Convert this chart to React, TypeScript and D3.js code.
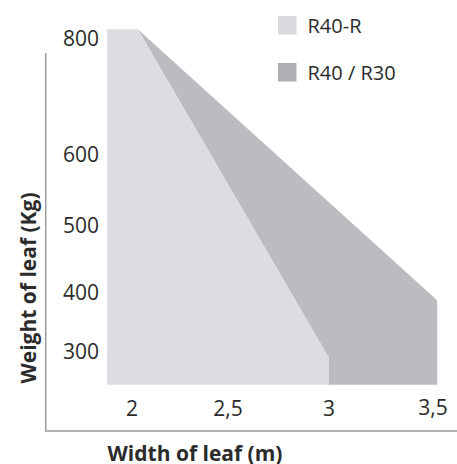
import React from "react";
import * as d3 from "d3";

const xTicks = [2, 2.5, 3, 3.5];
const xTickLabels = ["2", "2,5", "3", "3,5"];
const yTicks = [300, 400, 500, 600, 800];
const yTickLabels = ["300", "400", "500", "600", "800"];

// Polygon outlines: [width m, weight kg]
const r40rWidth = [1.87, 1.87, 2.03, 3.0, 3.0];
const r40rWeight = [243, 815, 815, 288, 243];
const r40r30Width = [2.03, 3.52, 3.52, 3.0, 3.0];
const r40r30Weight = [815, 386, 243, 243, 288];

const seriesNames = ["R40-R", "R40 / R30"];
const seriesColors = ["#dcdde0", "#bbbcc0"];
const legendColors = ["#d8dadd", "#adafb3"];

const W = 457;
const H = 464;

export default function App() {
  const x = d3.scaleLinear().domain(xTicks).range([132, 228, 329, 433]);
  const y = d3.scaleLinear().domain(yTicks).range([351, 292, 225, 154, 38]);

  const line = d3
    .line<[number, number]>()
    .x((d) => x(d[0]))
    .y((d) => y(d[1]));

  const poly = (ws: number[], ks: number[]) =>
    line(ws.map((w, i) => [w, ks[i]] as [number, number])) + "Z";

  const font = "'Open Sans', sans-serif";
  const textColor = "#2b2b2b";

  return (
    <svg
      width={W}
      height={H}
      style={{ position: "absolute", left: 0, top: 0, background: "#fff" }}
      fontFamily={font}
    >
      <path d={poly(r40r30Width, r40r30Weight)} fill={seriesColors[1]} />
      <path d={poly(r40rWidth, r40rWeight)} fill={seriesColors[0]} />

      <line x1={45.7} y1={53} x2={45.7} y2={431} stroke="#9a9a9a" strokeWidth={1.5} />
      <line x1={45} y1={431} x2={457} y2={431} stroke="#9a9a9a" strokeWidth={1.5} />

      {yTicks.map((t, i) => (
        <text
          key={t}
          x={99}
          y={y(t)}
          dy="0.36em"
          textAnchor="end"
          fontSize={21}
          fill={textColor}
        >
          {yTickLabels[i]}
        </text>
      ))}

      {xTicks.map((t, i) => (
        <text
          key={t}
          x={x(t)}
          y={i === 3 ? 407 : 408}
          dy="0.36em"
          textAnchor="middle"
          fontSize={21}
          fill={textColor}
        >
          {xTickLabels[i]}
        </text>
      ))}

      <text
        x={195}
        y={453}
        dy="0.36em"
        textAnchor="middle"
        fontSize={21}
        fontWeight="bold"
        fill={textColor}
      >
        Width of leaf (m)
      </text>

      <text
        transform={`translate(28,288) rotate(-90)`}
        dy="0.36em"
        textAnchor="middle"
        fontSize={21}
        fontWeight="bold"
        fill={textColor}
      >
        Weight of leaf (Kg)
      </text>

      {seriesNames.map((n, i) => (
        <g key={n} transform={`translate(278,${16 + i * 47})`}>
          <rect width={18.5} height={18.5} fill={legendColors[i]} />
          <text x={29.5} y={10} dy="0.36em" fontSize={20} fill={textColor}>
            {n}
          </text>
        </g>
      ))}
    </svg>
  );
}
